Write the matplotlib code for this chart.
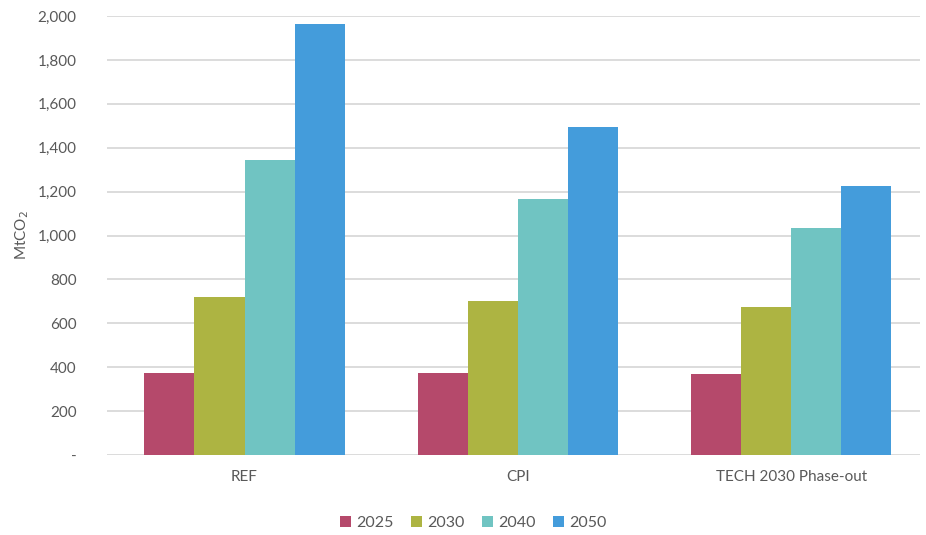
import matplotlib
matplotlib.use("Agg")
import matplotlib.pyplot as plt
import numpy as np
from matplotlib.ticker import FuncFormatter

# values (MtCO2)
scenarios = ["REF", "CPI", "TECH 2030 Phase-out"]
years = ["2025", "2030", "2040", "2050"]
v2025 = [375, 375, 370]
v2030 = [720, 702, 673]
v2040 = [1344, 1166, 1033]
v2050 = [1963, 1494, 1224]
colors = ["#B5496B", "#ADB442", "#70C4C2", "#449CDB"]

plt.rcParams["font.family"] = ["Lato", "DejaVu Sans"]
txt = "#595959"

fig = plt.figure(figsize=(9.26, 5.35), dpi=100)
ax = fig.add_axes([0.1156, 0.1495, 0.878, 0.8205])

x = np.arange(len(scenarios))
w = 0.183
series = [v2025, v2030, v2040, v2050]
for i, (vals, c, yr) in enumerate(zip(series, colors, years)):
    ax.bar(x + (i - 1.5) * w, vals, w, color=c, label=yr, zorder=3)

ax.set_xlim(-0.503, 2.472)
ax.set_ylim(0, 2000)
ax.set_yticks(range(0, 2001, 200))
ax.yaxis.set_major_formatter(FuncFormatter(lambda v, p: "-" if v == 0 else f"{v:,.0f}"))
ax.grid(axis="y", color="#D9D9D9", lw=1.3, zorder=0)
ax.set_axisbelow(True)
for s in ax.spines.values():
    s.set_visible(False)
ax.tick_params(length=0, colors=txt, labelsize=11)
ax.tick_params(axis="y", pad=22)
ax.tick_params(axis="x", pad=11)
ax.set_xticks(x)
ax.set_xticklabels(scenarios)
ax.set_ylabel("MtCO$_2$", color=txt, fontsize=11, labelpad=5)

fig.legend(loc="lower center", bbox_to_anchor=(0.511, -0.018), ncol=4, frameon=False,
           fontsize=11.5, labelcolor=txt, handlelength=0.7, handleheight=0.7,
           handletextpad=0.3, columnspacing=1.1)

fig.savefig("out.png", dpi=100)
